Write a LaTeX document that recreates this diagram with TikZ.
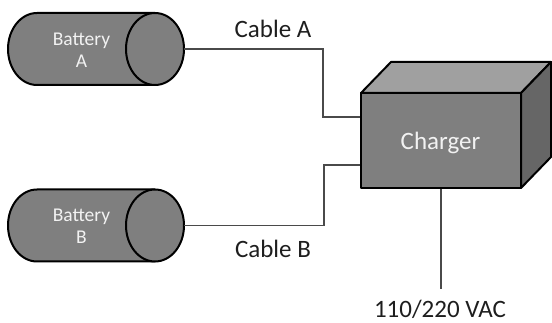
\documentclass[tikz,border=0pt]{standalone}
\usepackage{fontspec}
\setmainfont{Carlito}
\usetikzlibrary{calc}
\definecolor{bodygray}{HTML}{7F7F7F}
\definecolor{topgray}{HTML}{A0A0A0}
\definecolor{sidegray}{HTML}{666666}
\definecolor{cablegray}{HTML}{4A4A4A}
\definecolor{labelwhite}{HTML}{F2F2F2}
\definecolor{inkblack}{HTML}{1E1E1E}
% draws a horizontal cylinder (battery) inside the node #1
\newcommand\drawbattery[1]{%
  \filldraw[shapeline]
    ($(#1.north east)+(-29,0)$) -- ($(#1.north west)+(29,0)$)
    arc[start angle=90,end angle=270,x radius=29pt,y radius=36pt]
    -- ($(#1.south east)+(-29,0)$) -- cycle;
  \filldraw[shapeline] ($(#1.east)+(-29,0)$) ellipse[x radius=29pt,y radius=36pt];
}
\begin{document}
\begin{tikzpicture}[x=1pt,y=-1pt,
  shapeline/.style={draw=black,line width=2pt,fill=bodygray,line join=round},
  batterybody/.style={rectangle,draw=none,minimum width=176pt,minimum height=72pt,inner sep=0pt,outer sep=0pt},
  batterytext/.style={text=labelwhite,font=\fontsize{19.5}{22}\selectfont,align=center,inner sep=0pt},
  boxfront/.style={rectangle,shapeline,minimum width=160pt,minimum height=95pt,inner sep=0pt,outer sep=0pt},
  bigtext/.style={font=\fontsize{25}{30}\selectfont,inner sep=0pt,anchor=base},
  cable/.style={draw=cablegray,line width=1.3pt}]
\useasboundingbox (0,0) rectangle (552,323);

% batteries
\node[batterybody] (batA) at (96,49) {};
\node[batterybody] (batB) at (96,225.5) {};
\drawbattery{batA}
\drawbattery{batB}
\node[batterytext] (batAtext) at (81.5,49.8) {Battery\\A};
\node[batterytext] (batBtext) at (81.5,226.5) {Battery\\B};

% charger box
\node[boxfront] (charger) at (441,140.5) {};
\filldraw[shapeline,fill=topgray] (charger.north west) -- ++(30,-31) -- ++(160,0)
  -- (charger.north east) -- cycle;
\filldraw[shapeline,fill=sidegray] (charger.north east) -- ++(30,-31) -- ++(0,95)
  -- (charger.south east) -- cycle;
\node[bigtext,text=labelwhite] (chargertext) at (440.5,150) {Charger};

% labels
\node[bigtext,text=inkblack] (cableA) at (273,38) {Cable A};
\node[bigtext,text=inkblack] (cableB) at (273,258) {Cable B};
\node[bigtext,text=inkblack] (vac) at (440,317) {110/220 VAC};

% wiring
\draw[cable] (batA.east) -| ($(charger.west)+(-38,-23.5)$) -- ($(charger.west)+(-1,-23.5)$);
\draw[cable] (batB.east) -| ($(charger.west)+(-37,24.5)$) -- ($(charger.west)+(-1,24.5)$);
\draw[cable] ($(charger.south)+(0,1)$) -- ++(0,100);
\end{tikzpicture}
\end{document}
